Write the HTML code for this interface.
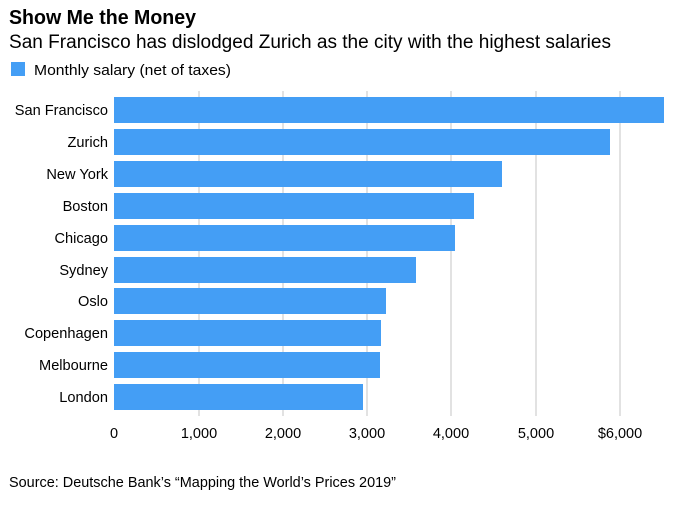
<!DOCTYPE html>
<html><head><meta charset="utf-8"><style>
body{margin:0;background:#fff;width:680px;height:508px;overflow:hidden;font-family:"Liberation Sans",sans-serif}
</style></head><body>
<svg width="680" height="508" xmlns="http://www.w3.org/2000/svg" font-family="Liberation Sans, sans-serif">
<text x="9" y="24" font-size="20" font-weight="bold" fill="#000" textLength="187" lengthAdjust="spacingAndGlyphs">Show Me the Money</text>
<text x="9" y="48" font-size="19" fill="#000" textLength="602" lengthAdjust="spacingAndGlyphs">San Francisco has dislodged Zurich as the city with the highest salaries</text>
<rect x="11" y="62" width="14" height="14" fill="#449ef5"/>
<text x="34" y="75" font-size="15" fill="#000" textLength="197" lengthAdjust="spacingAndGlyphs">Monthly salary (net of taxes)</text>
<g stroke="#d9d9d9" stroke-width="1.5">
<line x1="199" y1="91" x2="199" y2="416"/><line x1="283" y1="91" x2="283" y2="416"/>
<line x1="367" y1="91" x2="367" y2="416"/><line x1="451" y1="91" x2="451" y2="416"/>
<line x1="536" y1="91" x2="536" y2="416"/><line x1="620" y1="91" x2="620" y2="416"/>
</g>
<g fill="#449ef5">
<rect x="114" y="97" width="550" height="26"/>
<rect x="114" y="129" width="496" height="26"/>
<rect x="114" y="161" width="388" height="26"/>
<rect x="114" y="193" width="360" height="26"/>
<rect x="114" y="225" width="341" height="26"/>
<rect x="114" y="257" width="302" height="26"/>
<rect x="114" y="288" width="272" height="26"/>
<rect x="114" y="320" width="267" height="26"/>
<rect x="114" y="352" width="266" height="26"/>
<rect x="114" y="384" width="249" height="26"/>
</g>
<g font-size="14.6" fill="#000" text-anchor="end">
<text x="108" y="115">San Francisco</text>
<text x="108" y="147">Zurich</text>
<text x="108" y="179">New York</text>
<text x="108" y="211">Boston</text>
<text x="108" y="243">Chicago</text>
<text x="108" y="275">Sydney</text>
<text x="108" y="306">Oslo</text>
<text x="108" y="338">Copenhagen</text>
<text x="108" y="370">Melbourne</text>
<text x="108" y="402">London</text>
</g>
<g font-size="14.5" fill="#000" text-anchor="middle">
<text x="114" y="438">0</text><text x="199" y="438">1,000</text><text x="283" y="438">2,000</text>
<text x="367" y="438">3,000</text><text x="451" y="438">4,000</text><text x="536" y="438">5,000</text>
<text x="620" y="438">$6,000</text>
</g>
<text x="9" y="487" font-size="14.5" fill="#000" textLength="387" lengthAdjust="spacingAndGlyphs">Source: Deutsche Bank’s “Mapping the World’s Prices 2019”</text>
</svg>
</body></html>
